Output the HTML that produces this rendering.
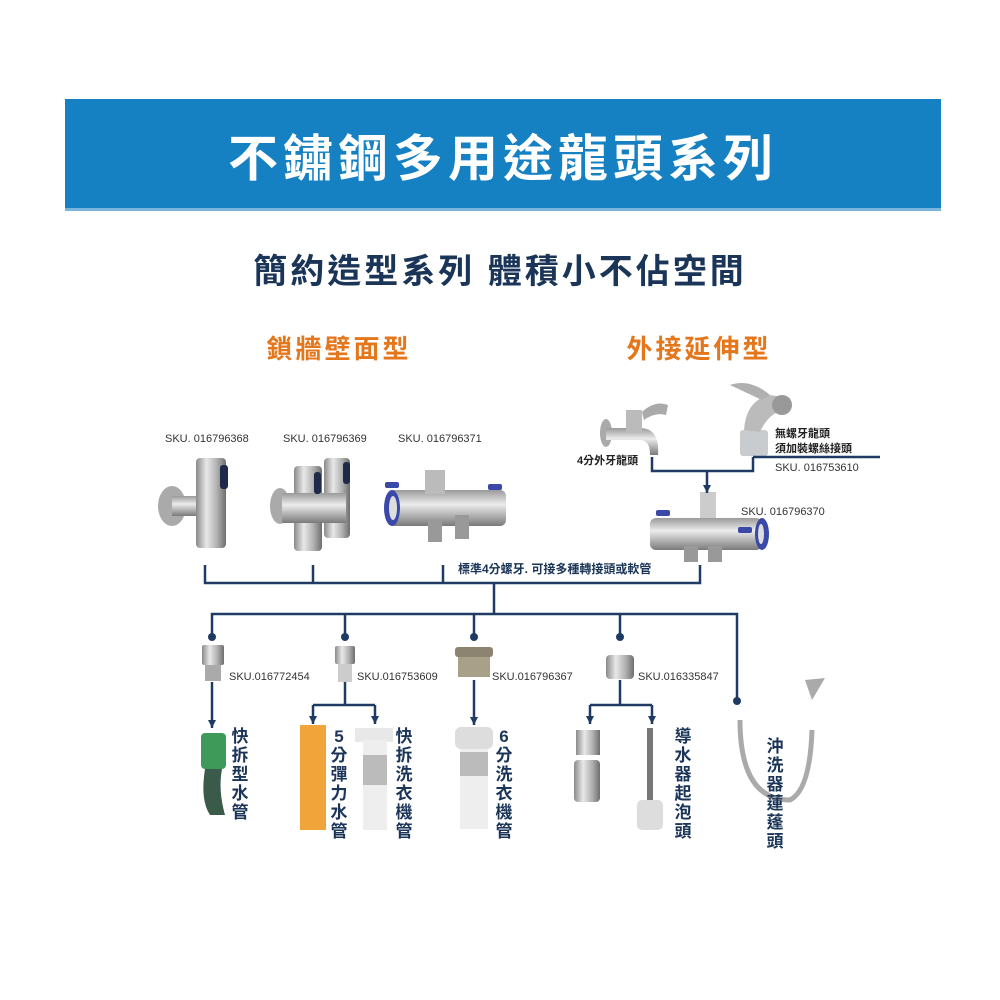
<!DOCTYPE html>
<html><head><meta charset="utf-8"><style>
html,body{margin:0;padding:0;background:#fff;}
svg{display:block;}
text{font-family:"Liberation Sans","Noto Sans CJK TC",sans-serif;}
</style></head><body>
<svg width="1000" height="1000" viewBox="0 0 1000 1000" xmlns="http://www.w3.org/2000/svg">
<defs>
<linearGradient id="steel" x1="0" x2="1" y1="0" y2="0">
<stop offset="0" stop-color="#8a8a8a"/><stop offset="0.35" stop-color="#e8e8e8"/><stop offset="0.7" stop-color="#b0b0b0"/><stop offset="1" stop-color="#6e6e6e"/></linearGradient>
<linearGradient id="steelv" x1="0" x2="0" y1="0" y2="1">
<stop offset="0" stop-color="#9a9a9a"/><stop offset="0.4" stop-color="#ececec"/><stop offset="1" stop-color="#7a7a7a"/></linearGradient>
<marker id="ar" markerWidth="9" markerHeight="9" refX="8" refY="4" orient="auto" markerUnits="userSpaceOnUse"><path d="M0,0 L8,4 L0,8z" fill="#1f3b64"/></marker>
</defs>
<rect x="65" y="99" width="876" height="109" fill="#1580c2"/>
<rect x="65" y="208" width="876" height="3" fill="#7ab6dc"/>
<text x="503" y="176" text-anchor="middle" font-size="50" font-weight="bold" fill="#fff" letter-spacing="5">不鏽鋼多用途龍頭系列</text>
<text x="500" y="283" text-anchor="middle" font-size="34" font-weight="bold" fill="#1b3558" letter-spacing="3">簡約造型系列 體積小不佔空間</text>
<text x="339" y="358" text-anchor="middle" font-size="26" font-weight="bold" fill="#e4761c" letter-spacing="3">鎖牆壁面型</text>
<text x="699" y="358" text-anchor="middle" font-size="26" font-weight="bold" fill="#e4761c" letter-spacing="3">外接延伸型</text>

<g font-size="11" fill="#333" font-family="Liberation Mono, monospace">
<text x="165" y="442">SKU. 016796368</text>
<text x="283" y="442">SKU. 016796369</text>
<text x="398" y="442">SKU. 016796371</text>
<text x="775" y="471">SKU. 016753610</text>
<text x="741" y="515">SKU. 016796370</text>
<text x="229" y="680">SKU.016772454</text>
<text x="357" y="680">SKU.016753609</text>
<text x="492" y="680">SKU.016796367</text>
<text x="638" y="680">SKU.016335847</text>
</g>
<g font-size="11" font-weight="bold" fill="#222">
<text x="577" y="464">4分外牙龍頭</text>
<text x="775" y="437">無螺牙龍頭</text>
<text x="775" y="452">須加裝螺絲接頭</text>
</g>
<text x="458" y="573" font-size="12" font-weight="bold" fill="#1b3558">標準4分螺牙. 可接多種轉接頭或軟管</text>

<!-- valves -->
<g>
<ellipse cx="172" cy="506" rx="14" ry="20" fill="#aaa"/>
<rect x="172" y="496" width="30" height="20" fill="url(#steelv)"/>
<rect x="196" y="458" width="30" height="90" rx="4" fill="url(#steel)"/>
<rect x="220" y="465" width="8" height="24" rx="3" fill="#1d2a4a"/>
<ellipse cx="280" cy="506" rx="10" ry="18" fill="#aaa"/>
<rect x="294" y="466" width="28" height="85" rx="4" fill="url(#steel)"/>
<rect x="324" y="458" width="26" height="80" rx="4" fill="url(#steel)"/>
<rect x="282" y="493" width="64" height="30" fill="url(#steelv)"/>
<rect x="314" y="472" width="7" height="22" rx="3" fill="#1d2a4a"/>
<rect x="343" y="462" width="7" height="22" rx="3" fill="#1d2a4a"/>
<rect x="388" y="490" width="118" height="36" rx="6" fill="url(#steelv)"/>
<ellipse cx="392" cy="508" rx="8" ry="18" fill="#3a48a8"/>
<ellipse cx="393" cy="508" rx="4" ry="12" fill="#ddd"/>
<rect x="425" y="470" width="20" height="24" fill="#bbb"/>
<rect x="428" y="520" width="14" height="22" fill="#999"/>
<rect x="455" y="515" width="14" height="24" fill="#999"/>
<rect x="385" y="482" width="14" height="6" rx="2" fill="#3a48a8"/>
<rect x="488" y="484" width="14" height="6" rx="2" fill="#3a48a8"/>
</g>
<!-- right taps -->
<g>
<ellipse cx="606" cy="433" rx="6" ry="14" fill="#aaa"/>
<path d="M606,428 L640,428 Q660,428 658,455 L650,455 Q650,440 640,440 L606,440z" fill="url(#steelv)"/>
<rect x="626" y="410" width="16" height="22" fill="#bbb"/>
<path d="M642,412 Q655,400 668,405 L666,415 Q655,412 644,420z" fill="#aaa"/>
<rect x="740" y="430" width="28" height="26" rx="3" fill="#c9ccce"/>
<path d="M744,430 Q746,400 770,395 L790,398 L788,410 Q770,410 760,432z" fill="#bbb"/>
<path d="M730,385 Q750,378 770,395 L762,400z" fill="#b0b0b0"/>
<circle cx="782" cy="405" r="10" fill="#999"/>
<rect x="700" y="492" width="16" height="30" fill="#ccc"/>
<rect x="650" y="518" width="112" height="32" rx="6" fill="url(#steelv)"/>
<ellipse cx="762" cy="534" rx="7" ry="16" fill="#3a48a8"/>
<ellipse cx="761" cy="534" rx="3" ry="10" fill="#ddd"/>
<rect x="684" y="546" width="14" height="16" fill="#999"/>
<rect x="708" y="546" width="14" height="16" fill="#999"/>
<rect x="656" y="510" width="14" height="6" rx="2" fill="#3a48a8"/>
<rect x="738" y="527" width="14" height="6" rx="2" fill="#3a48a8"/>
</g>

<!-- connectors -->
<g stroke="#1f3b64" stroke-width="2.5" fill="none">
<path d="M652,457 V471 H753 V457"/>
<path d="M753,457 H880"/>
<path d="M707,471 V493" marker-end="url(#ar)"/>
<path d="M205,565 V583 H700 V565"/>
<path d="M313,565 V583 M443,565 V583"/>
<path d="M494,583 V614 M212,636 V614 H737 V698"/>
<path d="M345,614 V636 M474,614 V636 M620,614 V636"/>
<path d="M212,682 V728" marker-end="url(#ar)"/>
<path d="M345,682 V705 M313,705 H375"/>
<path d="M313,705 V724" marker-end="url(#ar)"/>
<path d="M375,705 V724" marker-end="url(#ar)"/>
<path d="M474,680 V725" marker-end="url(#ar)"/>
<path d="M620,680 V705 M590,705 H652"/>
<path d="M590,705 V724" marker-end="url(#ar)"/>
<path d="M652,705 V724" marker-end="url(#ar)"/>
</g>
<g fill="#1f3b64">
<circle cx="212" cy="637" r="4"/><circle cx="345" cy="637" r="4"/><circle cx="474" cy="637" r="4"/><circle cx="620" cy="637" r="4"/><circle cx="737" cy="701" r="4"/>
</g>

<!-- adaptors -->
<rect x="202" y="645" width="22" height="20" rx="2" fill="url(#steel)"/><rect x="205" y="665" width="16" height="16" fill="#aaa"/>
<rect x="335" y="646" width="20" height="18" rx="2" fill="url(#steel)"/><rect x="338" y="664" width="14" height="18" fill="#ccc"/>
<rect x="455" y="647" width="38" height="10" rx="3" fill="#8c8470"/><rect x="458" y="657" width="32" height="20" fill="#a8a088"/>
<rect x="606" y="655" width="28" height="24" rx="4" fill="url(#steel)"/>

<!-- hoses -->
<rect x="201" y="733" width="25" height="36" rx="4" fill="#3e9a58"/>
<path d="M205,769 Q200,800 210,815 L225,815 Q218,790 222,769z" fill="#3a5a4a"/>
<rect x="300" y="725" width="26" height="105" fill="#f0a43a"/>
<rect x="355" y="728" width="38" height="14" fill="#e8e8e8"/>
<rect x="363" y="740" width="24" height="90" fill="#eee"/>
<rect x="363" y="755" width="24" height="30" fill="#bbb"/>
<rect x="455" y="727" width="38" height="22" rx="6" fill="#ddd"/>
<rect x="460" y="749" width="28" height="80" fill="#eee"/>
<rect x="460" y="752" width="28" height="24" fill="#bbb"/>
<rect x="576" y="730" width="24" height="25" fill="url(#steel)"/>
<rect x="574" y="760" width="26" height="42" rx="4" fill="url(#steel)"/>
<rect x="647" y="728" width="6" height="75" fill="#777"/>
<rect x="637" y="800" width="26" height="30" rx="5" fill="#ddd"/>
<path d="M740,720 Q740,800 790,800 Q810,790 812,730" stroke="#aaa" stroke-width="5" fill="none"/>
<path d="M805,680 L825,678 L812,700z" fill="#aaa"/>

<g font-size="17" font-weight="bold" fill="#1b3558" text-anchor="middle">
<text x="240" y="742">快</text><text x="240" y="761">拆</text><text x="240" y="780">型</text><text x="240" y="799">水</text><text x="240" y="818">管</text>
<text x="339" y="742">5</text><text x="339" y="761">分</text><text x="339" y="780">彈</text><text x="339" y="799">力</text><text x="339" y="818">水</text><text x="339" y="837">管</text>
<text x="404" y="742">快</text><text x="404" y="761">拆</text><text x="404" y="780">洗</text><text x="404" y="799">衣</text><text x="404" y="818">機</text><text x="404" y="837">管</text>
<text x="504" y="742">6</text><text x="504" y="761">分</text><text x="504" y="780">洗</text><text x="504" y="799">衣</text><text x="504" y="818">機</text><text x="504" y="837">管</text>
<text x="683" y="742">導</text><text x="683" y="761">水</text><text x="683" y="780">器</text><text x="683" y="799">起</text><text x="683" y="818">泡</text><text x="683" y="837">頭</text>
<text x="775" y="752">沖</text><text x="775" y="771">洗</text><text x="775" y="790">器</text><text x="775" y="809">蓮</text><text x="775" y="828">蓬</text><text x="775" y="847">頭</text>
</g>
</svg>
</body></html>
